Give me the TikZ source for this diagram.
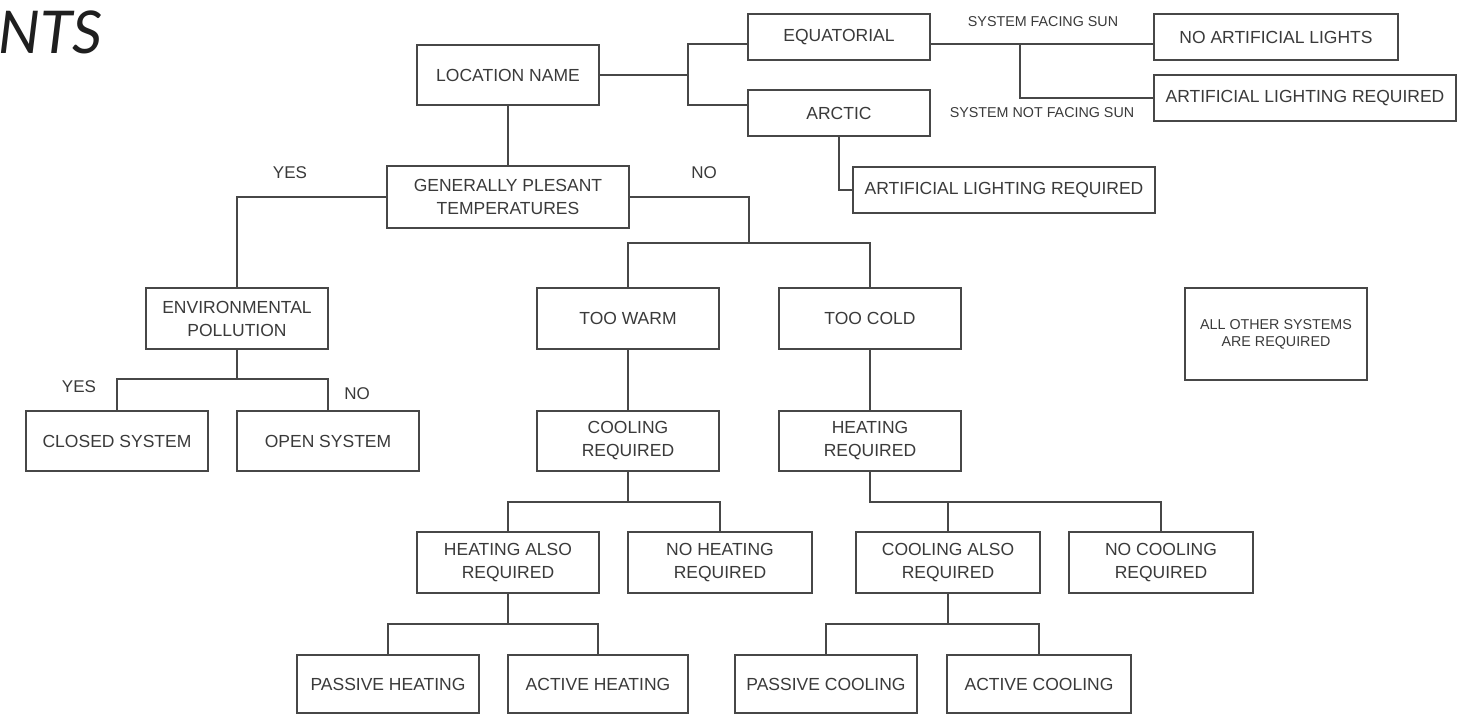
\documentclass[tikz,border=0pt]{standalone}
\usepackage{fontspec}
\setmainfont{Liberation Sans}
\newfontfamily\titlefont{Lato}
\definecolor{linec}{HTML}{474747}
\definecolor{textc}{HTML}{3A3A3A}
\begin{document}
\begin{tikzpicture}[x=1pt,y=-1pt,
  box/.style={draw=linec, line width=1.7pt, rectangle, inner sep=0pt, align=center, text=textc, font=\fontsize{17.5}{23}\selectfont},
  bx/.style 2 args={minimum width=#1, minimum height=#2},
  lbl/.style={text=textc, inner sep=0pt, font=\fontsize{17}{20}\selectfont},
  slbl/.style={text=textc, inner sep=0pt, font=\fontsize{14.3}{17}\selectfont},
  conn/.style={draw=linec, line width=1.7pt, line join=miter}]
\useasboundingbox (0,0) rectangle (1468,715);
\fill[white] (0,0) rectangle (1468,715);

% title fragment
\node[anchor=base west, inner sep=0pt, text=black!88, font=\fontsize{59}{62}\selectfont\titlefont\itshape] (T) at (-2,53) {NTS};

% boxes
\node[box, bx={182}{60}] (LN) at (508,75) {LOCATION NAME};
\node[box, bx={242}{62}] (GP) at (508,197) {GENERALLY PLESANT\\TEMPERATURES};
\node[box, bx={182}{46}] (EQ) at (839,37) {EQUATORIAL};
\node[box, bx={182}{46}] (AR) at (839,113) {ARCTIC};
\node[box, bx={244}{46}] (NAL) at (1276,37) {NO ARTIFICIAL LIGHTS};
\node[box, bx={302}{46}] (ALA) at (1305,98) {ARTIFICIAL LIGHTING REQUIRED};
\node[box, bx={302}{46}] (ALB) at (1004,190) {ARTIFICIAL LIGHTING REQUIRED};
\node[box, bx={182}{61}] (EP) at (237,318.5) {ENVIRONMENTAL\\POLLUTION};
\node[box, bx={182}{61}] (TW) at (628,318.5) {TOO WARM};
\node[box, bx={182}{61}] (TC) at (870,318.5) {TOO COLD};
\node[box, bx={182}{92}, font=\fontsize{14.3}{17}\selectfont] (AOS) at (1276,334) {ALL OTHER SYSTEMS\\ARE REQUIRED};
\node[box, bx={182}{60}] (CS) at (117,441) {CLOSED SYSTEM};
\node[box, bx={182}{60}] (OS) at (328,441) {OPEN SYSTEM};
\node[box, bx={182}{60}] (CR) at (628,441) {COOLING\\REQUIRED};
\node[box, bx={182}{60}] (HR) at (870,441) {HEATING\\REQUIRED};
\node[box, bx={182}{61}] (HAR) at (508,562.5) {HEATING ALSO\\REQUIRED};
\node[box, bx={184}{61}] (NHR) at (720,562.5) {NO HEATING\\REQUIRED};
\node[box, bx={184}{61}] (CAR) at (948,562.5) {COOLING ALSO\\REQUIRED};
\node[box, bx={184}{61}] (NCR) at (1161,562.5) {NO COOLING\\REQUIRED};
\node[box, bx={182}{58}] (PH) at (388,684) {PASSIVE HEATING};
\node[box, bx={180}{58}] (AH) at (598,684) {ACTIVE HEATING};
\node[box, bx={182}{58}] (PC) at (826,684) {PASSIVE COOLING};
\node[box, bx={184}{58}] (AC) at (1039,684) {ACTIVE COOLING};

% junctions
\coordinate (j1) at (688,75);
\coordinate (j2) at (1020,44);
\coordinate (j3) at (749,243);
\coordinate (j4) at (237,379);
\coordinate (j5) at (628,502);
\coordinate (j6) at (870,502);
\coordinate (j7) at (508,624);
\coordinate (j8) at (948,624);

% connectors
\draw[conn] (LN.east) -- (j1);
\draw[conn] ([yshift=-7pt]EQ.west) -| (j1) |- ([yshift=8pt]AR.west);
\draw[conn] ([yshift=-7pt]EQ.east) -- ([yshift=-7pt]NAL.west);
\draw[conn] (j2) |- (ALA.west);
\draw[conn] (AR.south) |- (ALB.west);
\draw[conn] (LN.south) -- (LN.south |- GP.north);
\draw[conn] (GP.west) -| (EP.north);
\draw[conn] (GP.east) -| (j3);
\draw[conn] (TW.north) |- (j3) -| (TC.north);
\draw[conn] (TW.south) -- (CR.north);
\draw[conn] (TC.south) -- (HR.north);
\draw[conn] (EP.south) -- (j4);
\draw[conn] (CS.north) |- (j4) -| (OS.north);
\draw[conn] (CR.south) -- (j5);
\draw[conn] (HAR.north) |- (j5) -| (NHR.north);
\draw[conn] (HR.south) -- (j6) -| (NCR.north);
\draw[conn] (CAR.north) -- (CAR.north |- j6);
\draw[conn] (HAR.south) -- (j7);
\draw[conn] (PH.north) |- (j7) -| (AH.north);
\draw[conn] (CAR.south) -- (j8);
\draw[conn] (PC.north) |- (j8) -| (AC.north);

% labels
\node[lbl] (y1) at (290,173) {YES};
\node[lbl] (n1) at (704,173) {NO};
\node[lbl] (y2) at (79,387) {YES};
\node[lbl] (n2) at (357,394) {NO};
\node[slbl] (sf) at (1043,22) {SYSTEM FACING SUN};
\node[slbl] (snf) at (1042,113) {SYSTEM NOT FACING SUN};
\end{tikzpicture}
\end{document}
